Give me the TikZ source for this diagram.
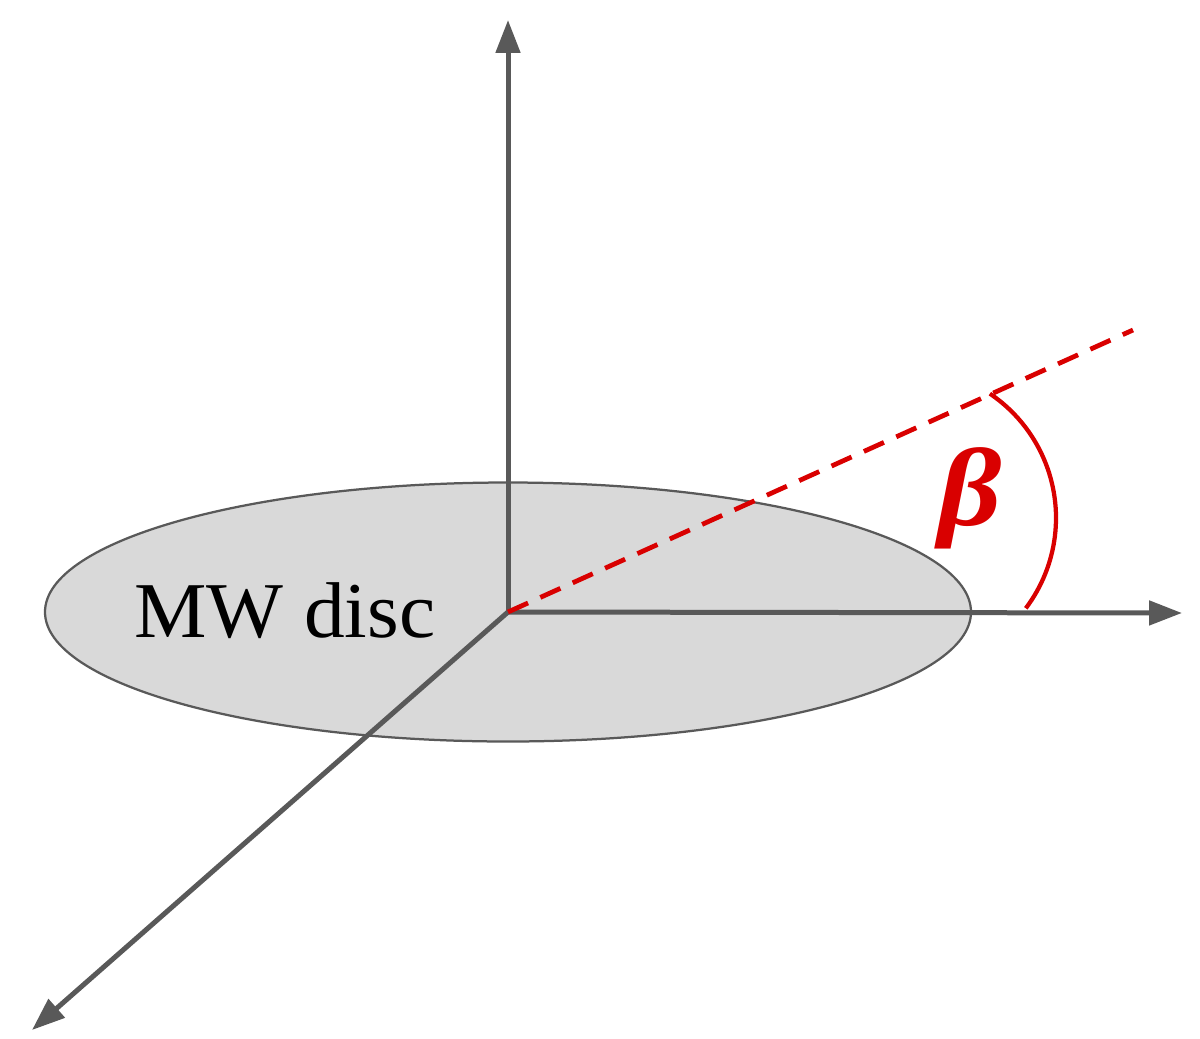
\documentclass[tikz,border=0pt]{standalone}
\usepackage{fontspec}
\setmainfont{Liberation Serif}
\usetikzlibrary{arrows.meta}
\definecolor{axisgray}{HTML}{595959}
\definecolor{discfill}{HTML}{D9D9D9}
\definecolor{betared}{HTML}{D90000}
\tikzset{
  axisline/.style={draw=axisgray, line width=0.1cm, -{Triangle[length=0.66cm,width=0.48cm]}},
  discstyle/.style={draw=axisgray, fill=discfill, line width=0.045cm},
  dirline/.style={draw=betared, line width=0.095cm, dash pattern=on 0.44cm off 0.27cm},
  anglearc/.style={draw=betared, line width=0.085cm},
}
\begin{document}
\begin{tikzpicture}[x=0.02cm,y=-0.02cm]
\useasboundingbox (0,0) rectangle (1200,1038);
\coordinate (O) at (508,612);
\coordinate (ztip) at (508,20);
\coordinate (xtip) at (1182,613);
\coordinate (ytip) at (32,1030);
\coordinate (dend) at (1133,330);
\coordinate (arcc) at (906,518);
% disc
\path[discstyle] (O) ellipse [x radius=463, y radius=129.5];
\node[font=\fontsize{45}{50}\selectfont, anchor=base, inner sep=0, xscale=1.03] (lbl) at (285,637) {MW disc};
% axes
\draw[axisline] (O) -- (ztip);
\draw[axisline] (O) -- (xtip);
\draw[axisline] (O) -- (ytip);
% direction
\draw[dirline] (O) -- (dend);
% angle arc
\draw[anglearc] ([shift={(37:150)}]arcc) arc[start angle=37, end angle=-56, radius=150];
\node[text=betared, font=\fontsize{63}{70}\selectfont\bfseries\itshape, inner sep=0, xscale=1.12] (beta) at (970,498) {β};
\end{tikzpicture}
\end{document}
